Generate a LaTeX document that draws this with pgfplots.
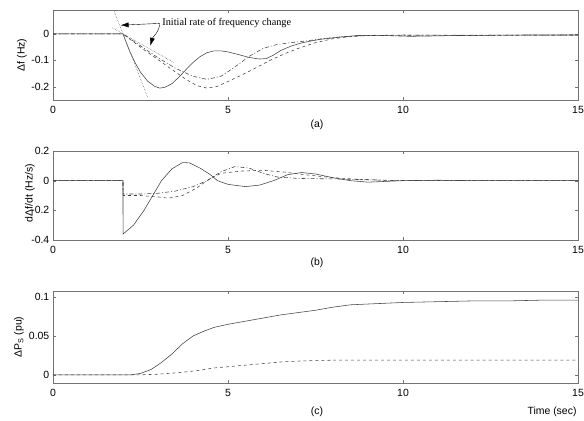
\documentclass[border=0pt]{standalone}
\usepackage{pgfplots}
\pgfplotsset{compat=1.18}
\usepackage{fontspec}
\setmainfont{Liberation Sans}
\newfontfamily\seriffont{Liberation Serif}
\usetikzlibrary{arrows.meta}

\pgfplotstableread{
t v
0 0
2 0
2.1 -0.035
2.2 -0.068
2.35 -0.11
2.5 -0.145
2.7 -0.178
2.9 -0.198
3.05 -0.205
3.2 -0.202
3.4 -0.188
3.6 -0.163
3.8 -0.135
4.0 -0.108
4.2 -0.086
4.4 -0.071
4.6 -0.064
4.8 -0.064
5.0 -0.068
5.3 -0.078
5.6 -0.089
5.9 -0.095
6.1 -0.093
6.3 -0.08
6.5 -0.063
6.8 -0.046
7.1 -0.034
7.6 -0.021
8.2 -0.012
8.7 -0.006
9.2 -0.005
9.7 -0.007
10.2 -0.009
10.7 -0.008
11.5 -0.006
12.5 -0.005
13.5 -0.004
15 -0.004
}\asolid

\pgfplotstableread{
t v
0 0
2 0
2.3 -0.03
2.6 -0.06
3.0 -0.097
3.4 -0.135
3.8 -0.172
4.1 -0.195
4.4 -0.205
4.7 -0.198
5.0 -0.18
5.4 -0.155
5.8 -0.128
6.2 -0.1
6.6 -0.076
7.0 -0.055
7.5 -0.033
8.0 -0.018
8.5 -0.01
9 -0.006
10 -0.004
11 -0.005
12 -0.006
13 -0.005
15 -0.004
}\adashed

\pgfplotstableread{
t v
0 0
2 0
2.5 -0.045
3.0 -0.09
3.5 -0.13
4.0 -0.16
4.4 -0.172
4.8 -0.16
5.2 -0.125
5.6 -0.085
6.0 -0.055
6.4 -0.04
6.8 -0.033
7.2 -0.027
7.7 -0.018
8.3 -0.01
9 -0.006
10 -0.005
15 -0.004
}\adashdot

\pgfplotstableread{
t v
0 0
2 0
2.001 -0.36
2.3 -0.3
2.6 -0.2
2.9 -0.08
3.1 0.0
3.4 0.08
3.7 0.122
3.9 0.12
4.2 0.085
4.5 0.04
4.7 0.0
5.0 -0.025
5.5 -0.04
5.9 -0.03
6.3 0.0
6.7 0.04
7.1 0.055
7.5 0.045
8.0 0.02
8.5 0.0
9 -0.01
9.5 -0.005
10 0.0
11 0.003
12 0
15 0
}\bsolid

\pgfplotstableread{
t v
0 0
2 0
2.001 -0.1
2.5 -0.1
3.0 -0.11
3.3 -0.118
3.7 -0.1
4.1 -0.05
4.4 0
4.8 0.05
5.4 0.065
6.0 0.07
6.6 0.058
7.2 0.04
8 0.02
8.8 0.008
9.5 0.002
10 0
15 0
}\bdashed

\pgfplotstableread{
t v
0 0
2 0
2.001 -0.09
2.5 -0.09
3.0 -0.085
3.5 -0.07
4.0 -0.04
4.4 0
4.8 0.06
5.2 0.095
5.6 0.085
6.0 0.05
6.4 0.025
7 0.015
8 0.012
9 0.006
10 0
15 0
}\bdashdot

\pgfplotstableread{
t v
0 0
2.2 0
2.5 0.002
2.8 0.007
3.1 0.016
3.4 0.027
3.7 0.04
4.0 0.05
4.3 0.056
4.6 0.061
5.0 0.065
5.5 0.069
6.0 0.073
6.5 0.077
7.0 0.08
7.5 0.083
8.0 0.087
8.5 0.09
9 0.091
9.5 0.092
10 0.093
11 0.094
12 0.095
13 0.095
14 0.096
15 0.096
}\csolid

\pgfplotstableread{
t v
0 0
2.4 0
3.0 0.001
3.6 0.003
4.2 0.006
4.6 0.009
5.1 0.011
5.6 0.013
6.1 0.015
6.6 0.017
7.1 0.018
8 0.019
9 0.019
10 0.019
15 0.019
}\cdashed

\begin{document}
\fontsize{10.5}{12}\selectfont
\begin{tikzpicture}
\path[use as bounding box] (0,0) rectangle (584bp,-421bp);
\pgfplotsset{
  panel/.style={
    scale only axis, width=525bp, anchor=north west,
    xmin=0, xmax=15, xtick={0,5,10,15}, xticklabels={0,5,10,15},
    axis line style={black!55, line width=0.6pt},
    tick style={black!55}, tick align=inside, major tick length=3bp,
    ticklabel style={font=\fontsize{10.5}{12}\selectfont, text=black},
    xticklabel shift=3bp,
    every axis plot/.append style={line width=0.55pt, black!75},
  },
}
% (a)
\begin{axis}[panel, at={(53bp,-10bp)}, height=90bp,
  ymin=-0.25, ymax=0.0906, ytick={-0.2,-0.1,0}, yticklabels={-0.2,-0.1,0}]
\addplot[solid] table[x=t,y=v]{\asolid};
\addplot[dashed] table[x=t,y=v]{\adashed};
\addplot[dash pattern=on 4pt off 2pt on 1pt off 2pt] table[x=t,y=v]{\adashdot};
\addplot[densely dotted, black!60] coordinates {(1.75,0.085) (2.7,-0.238)};
\addplot[densely dotted, black!60] coordinates {(1.7,0.023) (3.45,-0.108)};
\node[font=\seriffont\fontsize{10.3}{12}\selectfont, anchor=west, inner sep=0pt] at (axis cs:3.12,0.042) {Initial rate of frequency change};
\draw[-{Latex[length=8bp,width=5bp]}, black] (axis cs:3.05,0.04) -- (axis cs:1.93,0.033);
\draw[-{Latex[length=8bp,width=5bp]}, black] (axis cs:3.05,0.036) to[out=-100,in=75] (axis cs:2.78,-0.045);
\end{axis}
% (b)
\begin{axis}[panel, at={(53bp,-151bp)}, height=89bp,
  ymin=-0.4, ymax=0.2, ytick={-0.4,-0.2,0,0.2}, yticklabels={-0.4,-0.2,0,0.2}]
\addplot[solid] table[x=t,y=v]{\bsolid};
\addplot[dashed] table[x=t,y=v]{\bdashed};
\addplot[dash pattern=on 4pt off 2pt on 1pt off 2pt] table[x=t,y=v]{\bdashdot};
\end{axis}
% (c)
\begin{axis}[panel, at={(53bp,-291bp)}, height=92bp,
  ymin=-0.0103, ymax=0.1077, ytick={0,0.05,0.1}, yticklabels={0,0.05,0.1}]
\addplot[solid] table[x=t,y=v]{\csolid};
\addplot[dashed] table[x=t,y=v]{\cdashed};
\end{axis}
\node[rotate=90] at (22bp,-55bp) {Δf (Hz)};
\node[rotate=90] at (30bp,-193bp) {dΔf/dt (Hz/s)};
\node[rotate=90] at (19bp,-337bp) {ΔP\textsubscript{S} (pu)};
\node at (317bp,-125bp) {(a)};
\node at (317bp,-263bp) {(b)};
\node at (317bp,-412bp) {(c)};
\node at (552bp,-412bp) {Time (sec)};
\end{tikzpicture}
\end{document}
